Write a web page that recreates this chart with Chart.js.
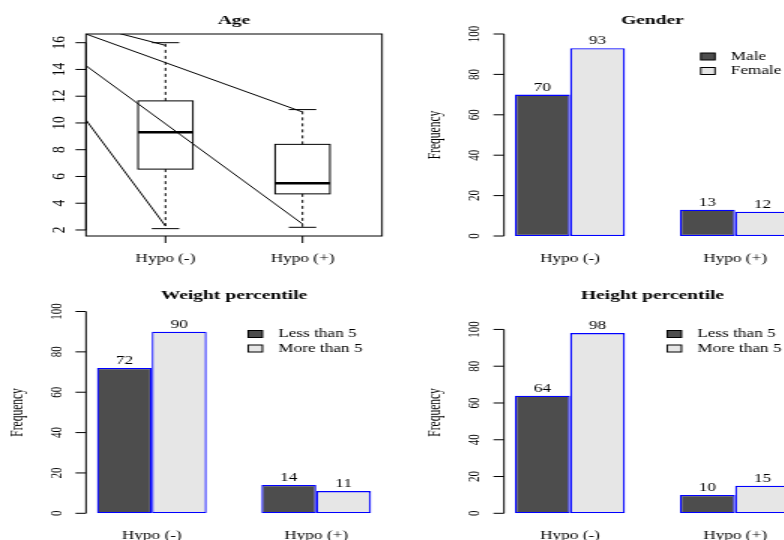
<!DOCTYPE html>
<html>
<head>
<meta charset="utf-8">
<script src="https://cdn.jsdelivr.net/npm/chart.js@4.4.0/dist/chart.umd.min.js"></script>
<style>
  html, body { margin: 0; padding: 0; background: #fff; overflow: hidden; }
  #page { position: relative; width: 784px; height: 540px; overflow: hidden; }
  /* the original picture is stretched sideways, so every panel is drawn narrow and widened */
  canvas { position: absolute; transform-origin: 0 0; transform: scaleX(1.5); }
</style>
</head>
<body>
<div id="page">
  <canvas id="age" width="262" height="270" style="left:0;top:0"></canvas>
  <canvas id="gender" width="280" height="270" style="left:392px;top:0"></canvas>
  <canvas id="weight" width="262" height="270" style="left:0;top:270px"></canvas>
  <canvas id="height" width="280" height="270" style="left:392px;top:270px"></canvas>
</div>
<script>
// ---- data ----
const groups = ['Hypo (-)', 'Hypo (+)'];

// age boxplot stats
const ageMin = [2.1, 2.2];
const ageQ1 = [6.55, 4.7];
const ageMedian = [9.3, 5.5];
const ageQ3 = [11.65, 8.4];
const ageMax = [16, 11];
const ageTicks = [2, 4, 6, 8, 10, 12, 14, 16];
// stray lines across the age panel, start and end of each
const ageLinesX = [[-0.58, 0], [-0.58, 1], [-0.58, 1], [-0.58, 0]];
const ageLinesY = [[17.33, 15.8], [16.65, 10.82], [14.28, 2.45], [10.22, 2.3]];

const genderNames = ['Male', 'Female'];
const genderMale = [70, 13];
const genderFemale = [93, 12];

const pctNames = ['Less than 5', 'More than 5'];
const weightLess = [72, 14];
const weightMore = [90, 11];
const heightLess = [64, 10];
const heightMore = [98, 15];

const freqTicks = [0, 20, 40, 60, 80, 100];

// ---- drawing helpers ----
const serif = "'Liberation Serif', 'Times New Roman', serif";
const darkFill = '#4D4D4D';
const lightFill = '#E6E6E6';

function rText(ctx, text, x, y, size, opts) {
  opts = opts || {};
  ctx.save();
  ctx.font = (opts.bold ? 'bold ' : '') + size + 'px ' + serif;
  ctx.fillStyle = '#000';
  ctx.textAlign = opts.align || 'center';
  ctx.textBaseline = opts.baseline || 'middle';
  ctx.translate(x, y);
  if (opts.rotate) ctx.rotate(-Math.PI / 2);
  ctx.fillText(text, 0, 0);
  ctx.restore();
}

function drawBoxes(chart) {
  const ctx = chart.ctx, xs = chart.scales.x, ys = chart.scales.y;
  ctx.save();
  ctx.strokeStyle = '#000';
  groups.forEach((g, i) => {
    const cx = xs.getPixelForValue(i);
    const hw = xs.getPixelForValue(i + 0.2) - cx;
    const cw = hw / 2;
    const yMin = ys.getPixelForValue(ageMin[i]);
    const yQ1 = ys.getPixelForValue(ageQ1[i]);
    const yMed = ys.getPixelForValue(ageMedian[i]);
    const yQ3 = ys.getPixelForValue(ageQ3[i]);
    const yMax = ys.getPixelForValue(ageMax[i]);
    ctx.lineWidth = 1;
    ctx.setLineDash([3, 3]);
    ctx.beginPath();
    ctx.moveTo(cx, yQ3); ctx.lineTo(cx, yMax);
    ctx.moveTo(cx, yQ1); ctx.lineTo(cx, yMin);
    ctx.stroke();
    ctx.setLineDash([]);
    ctx.beginPath();
    ctx.moveTo(cx - cw, yMax); ctx.lineTo(cx + cw, yMax);
    ctx.moveTo(cx - cw, yMin); ctx.lineTo(cx + cw, yMin);
    ctx.stroke();
    ctx.strokeRect(cx - hw, yQ3, 2 * hw, yQ1 - yQ3);
    ctx.lineWidth = 2.5;
    ctx.beginPath();
    ctx.moveTo(cx - hw, yMed); ctx.lineTo(cx + hw, yMed);
    ctx.stroke();
  });
  ctx.restore();
}

// R style title, axes, legend and bar labels
function rStyle(cfg) {
  return {
    id: 'rstyle',
    beforeDatasetsDraw(chart) {
      if (cfg.boxes) drawBoxes(chart);
    },
    afterDraw(chart) {
      const ctx = chart.ctx, a = chart.chartArea;
      const xs = chart.scales.x, ys = chart.scales.y;
      rText(ctx, cfg.title, (a.left + a.right) / 2, cfg.titleY, 13, { bold: true });

      ctx.save();
      ctx.strokeStyle = '#000';
      ctx.lineWidth = 1;
      if (cfg.frame) ctx.strokeRect(a.left, a.top, a.right - a.left, a.bottom - a.top);
      const t = cfg.yTicks;
      ctx.beginPath();
      ctx.moveTo(a.left, ys.getPixelForValue(t[0]));
      ctx.lineTo(a.left, ys.getPixelForValue(t[t.length - 1]));
      t.forEach(v => {
        const p = ys.getPixelForValue(v);
        ctx.moveTo(a.left, p); ctx.lineTo(a.left - 7, p);
      });
      if (cfg.xTicks) {
        groups.forEach((g, i) => {
          const p = xs.getPixelForValue(i);
          ctx.moveTo(p, a.bottom); ctx.lineTo(p, a.bottom + 7);
        });
      }
      ctx.stroke();
      ctx.restore();

      t.forEach(v => {
        rText(ctx, String(v), a.left - cfg.tickOffset, ys.getPixelForValue(v), cfg.tickSize, { rotate: true });
      });
      groups.forEach((g, i) => {
        rText(ctx, g, xs.getPixelForValue(i), a.bottom + 23, 11.5);
      });
      if (cfg.yLabel) {
        rText(ctx, cfg.yLabel, a.left - 45.7, (a.top + a.bottom) / 2, 11.5, { rotate: true });
      }

      if (cfg.valueLabels) {
        chart.data.datasets.forEach((ds, k) => {
          chart.getDatasetMeta(k).data.forEach((bar, i) => {
            rText(ctx, String(ds.data[i].y), bar.x, bar.y - 4, 11.5, { baseline: 'alphabetic' });
          });
        });
      }

      if (cfg.legend) {
        ctx.save();
        ctx.font = '11.5px ' + serif;
        const maxW = Math.max.apply(null, chart.data.datasets.map(ds => ctx.measureText(ds.label).width));
        ctx.restore();
        const textLeft = a.right - 13 - maxW;
        chart.data.datasets.forEach((ds, k) => {
          const y = a.top + 22.5 + k * 14.5;
          ctx.save();
          ctx.fillStyle = ds.backgroundColor;
          ctx.strokeStyle = '#000';
          ctx.lineWidth = 1;
          ctx.fillRect(textLeft - 20, y - 3.5, 9.5, 7);
          ctx.strokeRect(textLeft - 20, y - 3.5, 9.5, 7);
          ctx.restore();
          rText(ctx, ds.label, textLeft, y, 11.5, { align: 'left' });
        });
      }
    }
  };
}

// ---- age panel ----
new Chart(document.getElementById('age'), {
  type: 'line',
  data: {
    datasets: ageLinesX.map((xv, k) => ({
      data: xv.map((x, j) => ({ x: x, y: ageLinesY[k][j] })),
      borderColor: '#000',
      borderWidth: 1,
      pointRadius: 0,
      fill: false
    }))
  },
  options: {
    responsive: false,
    animation: false,
    layout: { padding: { left: 57.33, right: 7.33, top: 34, bottom: 34 } },
    scales: {
      x: { type: 'linear', min: -0.58, max: 1.58, display: false },
      y: { type: 'linear', min: 1.55, max: 16.65, display: false }
    },
    plugins: { legend: { display: false }, tooltip: { enabled: false } }
  },
  plugins: [rStyle({
    title: 'Age', titleY: 20.5, frame: true, boxes: true, xTicks: true,
    yTicks: ageTicks, tickSize: 13.5, tickOffset: 18
  })]
});

// ---- bar panels ----
function barChart(id, seriesA, seriesB, names, yMax, title, padding, titleY) {
  return new Chart(document.getElementById(id), {
    type: 'bar',
    data: {
      datasets: [
        { label: names[0], data: seriesA.map((v, i) => ({ x: i, y: v })),
          backgroundColor: darkFill, borderColor: '#0000FF', borderWidth: 1.3, borderSkipped: false },
        { label: names[1], data: seriesB.map((v, i) => ({ x: i, y: v })),
          backgroundColor: lightFill, borderColor: '#0000FF', borderWidth: 1.3, borderSkipped: false }
      ]
    },
    options: {
      responsive: false,
      animation: false,
      layout: { padding: padding },
      datasets: { bar: { categoryPercentage: 2 / 3, barPercentage: 1 } },
      scales: {
        x: {
          type: 'linear', min: -0.4, max: 1.4, offset: false, bounds: 'data', display: false,
          afterBuildTicks: s => { s.ticks = groups.map((g, i) => ({ value: i })); }
        },
        y: { type: 'linear', min: 0, max: yMax, display: false }
      },
      plugins: { legend: { display: false }, tooltip: { enabled: false } }
    },
    plugins: [rStyle({
      title: title, titleY: titleY, yTicks: freqTicks, tickSize: 11, tickOffset: 19.3,
      yLabel: 'Frequency', valueLabels: true, legend: true
    })]
  });
}

barChart('gender', genderMale, genderFemale, genderNames, 100, 'Gender',
  { left: 74.67, right: 7.33, top: 34, bottom: 34 }, 20.5);
barChart('weight', weightLess, weightMore, pctNames, 100, 'Weight percentile',
  { left: 57.33, right: 7.33, top: 41.5, bottom: 26.7 }, 26);
barChart('height', heightLess, heightMore, pctNames, 109.76, 'Height percentile',
  { left: 74.67, right: 7.33, top: 41.5, bottom: 26.7 }, 26);
</script>
</body>
</html>
